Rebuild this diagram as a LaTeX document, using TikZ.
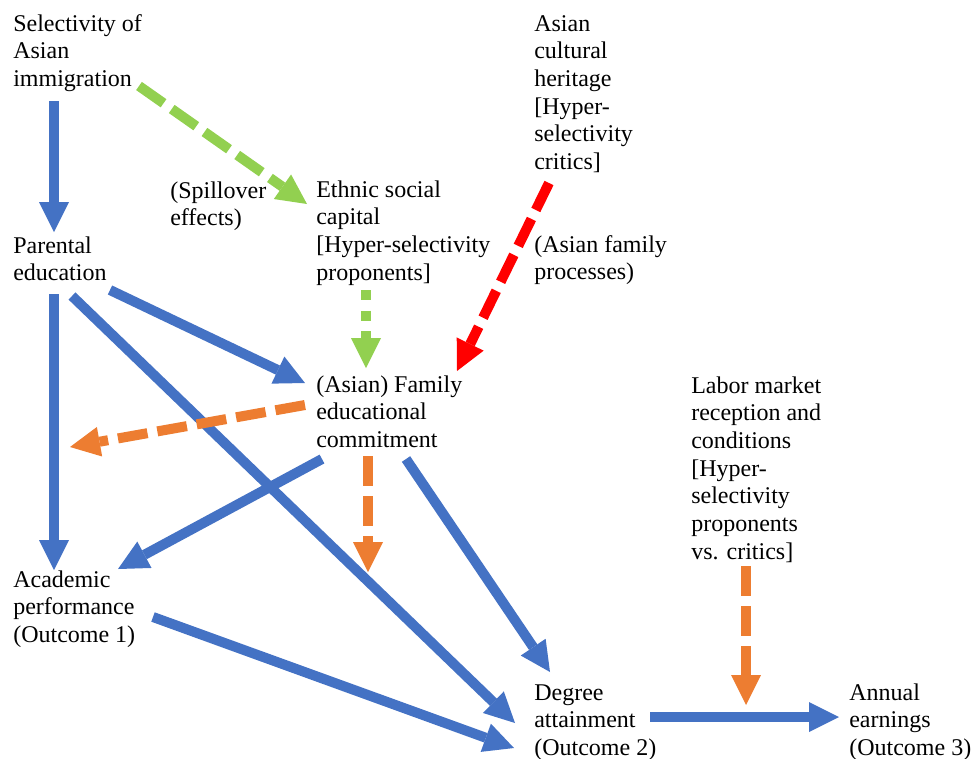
\documentclass[tikz,border=0pt]{standalone}
\usepackage{fontspec}
\setmainfont{Liberation Serif}
\usetikzlibrary{arrows.meta}
\definecolor{oblue}{HTML}{4472C4}
\definecolor{ogreen}{HTML}{92D050}
\definecolor{ored}{HTML}{FF0000}
\definecolor{oorange}{HTML}{ED7D31}
\newcommand\mltext[1]{\begin{tabular}[t]{@{}l@{}}#1\end{tabular}}
\begin{document}
\begin{tikzpicture}[x=0.75pt,y=-0.75pt,
  lbl/.style={anchor=base west, inner sep=0pt, font=\fontsize{18pt}{20.8pt}\selectfont},
  conn/.style={line width=7.5pt, -{Triangle[length=22.5pt,width=22.5pt,line width=0pt]}},
  bluearr/.style={conn, color=oblue},
  dasharr/.style={conn, dash pattern=on 22.5pt off 7.5pt},
  dotarr/.style={conn, dash pattern=on 7.5pt off 8pt}]
\useasboundingbox (0,0) rectangle (974,758);

% text nodes
\node[lbl] (sel)   at (13,31)  {\mltext{Selectivity of\\Asian\\immigration}};
\node[lbl] (par)   at (13,253) {\mltext{Parental\\education}};
\node[lbl] (acad)  at (13,587) {\mltext{Academic\\performance\\(Outcome 1)}};
\node[lbl] (spill) at (170,198) {\mltext{(Spillover\\effects)}};
\node[lbl] (eth)   at (316,197) {\mltext{Ethnic social\\capital\\{[}Hyper-selectivity\\proponents]}};
\node[lbl] (cult)  at (534,31)  {\mltext{Asian\\cultural\\heritage\\{[}Hyper-\\selectivity\\critics]}};
\node[lbl] (proc)  at (534,252) {\mltext{(Asian family\\processes)}};
\node[lbl] (fam)   at (316,392) {\mltext{(Asian) Family\\educational\\commitment}};
\node[lbl] (lab)   at (691,393) {\mltext{Labor market\\reception and\\conditions\\{[}Hyper-\\selectivity\\proponents\\vs. critics]}};
\node[lbl] (deg)   at (534,700) {\mltext{Degree\\attainment\\(Outcome 2)}};
\node[lbl] (ann)   at (849,700) {\mltext{Annual\\earnings\\(Outcome 3)}};

% connector end points
\coordinate (sel-s)   at (54,101);
\coordinate (par-n)   at (54,232);
\coordinate (par-s)   at (54,294);
\coordinate (par-se)  at (72,296);
\coordinate (par-e)   at (110,290);
\coordinate (acad-n)  at (54,570);
\coordinate (acad-ne) at (118,569);
\coordinate (acad-e)  at (153,617);
\coordinate (fam-w)   at (305,383);
\coordinate (fam-sw)  at (322,459);
\coordinate (fam-s)   at (406,459);
\coordinate (fam-l)   at (305,405);
\coordinate (fam-d)   at (368,456);
\coordinate (fam-n)   at (366,368);
\coordinate (fam-ne)  at (457,371);
\coordinate (deg-n)   at (550,672);
\coordinate (deg-w)   at (515,723);
\coordinate (deg-sw)  at (514,748);
\coordinate (deg-e)   at (650,717);
\coordinate (ann-w)   at (839,717);
\coordinate (sel-e)   at (139,86);
\coordinate (eth-w)   at (307,204);
\coordinate (eth-s)   at (366,290);
\coordinate (cult-s)  at (549,183);
\coordinate (lab-s)   at (746,566);
\coordinate (mid-left) at (70,447);
\coordinate (mid-down) at (368,572);
\coordinate (earn-mid) at (746,705);

% blue solid arrows
\draw[bluearr] (sel-s) -- (par-n);
\draw[bluearr] (par-s) -- (acad-n);
\draw[bluearr] (par-e) -- (fam-w);
\draw[bluearr] (par-se) -- (deg-w);
\draw[bluearr] (fam-sw) -- (acad-ne);
\draw[bluearr] (fam-s) -- (deg-n);
\draw[bluearr] (acad-e) -- (deg-sw);
\draw[bluearr] (deg-e) -- (ann-w);

% green arrows
\draw[dasharr, color=ogreen] (sel-e) -- (eth-w);
\draw[dotarr, color=ogreen] (eth-s) -- (fam-n);

% red arrow
\draw[dasharr, color=ored] (cult-s) -- (fam-ne);

% orange arrows
\draw[dasharr, color=oorange] (fam-l) -- (mid-left);
\draw[dasharr, color=oorange] (fam-d) -- (mid-down);
\draw[dasharr, color=oorange] (lab-s) -- (earn-mid);
\end{tikzpicture}
\end{document}
